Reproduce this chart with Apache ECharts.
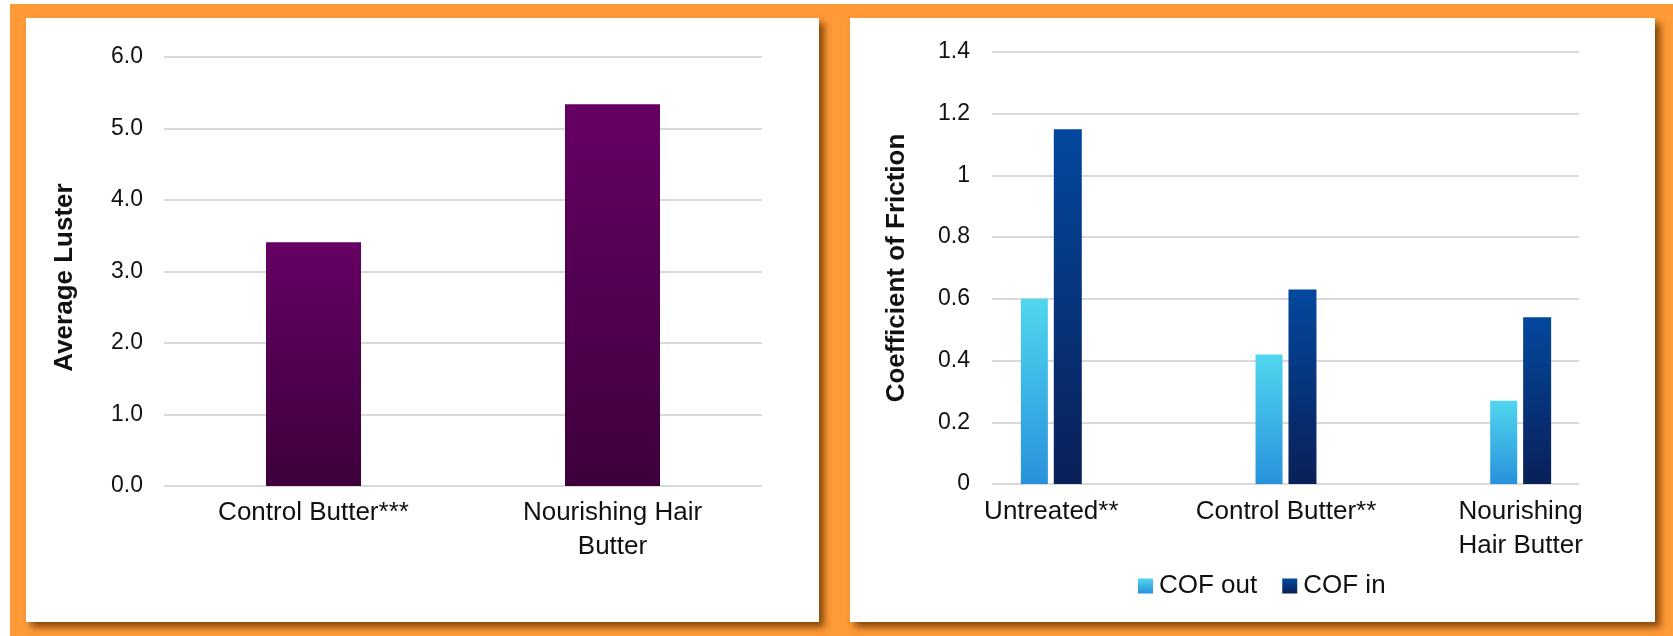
<!DOCTYPE html>
<html>
<head>
<meta charset="utf-8">
<script src="https://cdn.jsdelivr.net/npm/echarts@6/dist/echarts.min.js"></script>
<style>
  html, body { margin: 0; padding: 0; background: #ffffff; }
  #wrap { position: relative; width: 1673px; height: 636px; overflow: hidden; }
  #bg { position: absolute; left: 10px; top: 4px; width: 1663px; height: 632px; background: #fe9a37; }
  .panel { position: absolute; top: 18px; height: 604px; background: #ffffff;
           box-shadow: 5px 5px 7px rgba(110, 55, 0, 0.85); }
  #p1 { left: 26px; width: 793px; }
  #p2 { left: 850px; width: 805px; }
  #chart { position: absolute; left: 0; top: 0; width: 1673px; height: 636px; }
</style>
</head>
<body>
<div id="wrap">
  <div id="bg"></div>
  <div class="panel" id="p1"></div>
  <div class="panel" id="p2"></div>
  <div id="chart"></div>
</div>
<script>
// ---- data ----
const lusterCategories = ['Control Butter***', 'Nourishing Hair\nButter'];
const lusterValues = [3.41, 5.34];
const lusterAxisTitle = 'Average Luster';

const cofCategories = ['Untreated**', 'Control Butter**', 'Nourishing\nHair Butter'];
const cofOut = [0.60, 0.42, 0.27];
const cofIn = [1.15, 0.63, 0.54];
const cofSeriesNames = ['COF out', 'COF in'];
const cofAxisTitle = 'Coefficient of Friction';

// ---- styles ----
const FONT = 'Liberation Sans, Arial, sans-serif';
const TXT = '#111111';
const GRID_LINE = { color: '#d9d9d9', width: 2 };

function vgrad(top, bottom) {
  return new echarts.graphic.LinearGradient(0, 0, 0, 1, [
    { offset: 0, color: top }, { offset: 1, color: bottom }
  ]);
}

const chart = echarts.init(document.getElementById('chart'), null, { renderer: 'canvas' });

const option = {
  backgroundColor: 'transparent',
  animation: false,
  textStyle: { fontFamily: FONT, color: TXT },
  legend: {
    data: cofSeriesNames,
    left: 1133,
    top: 568,
    itemWidth: 15,
    itemHeight: 15,
    itemGap: 25,
    icon: 'rect',
    textStyle: { fontFamily: FONT, fontSize: 26, color: TXT, padding: [0, 0, 0, 1] }
  },
  grid: [
    { left: 164, right: 911, top: 57, bottom: 150, containLabel: false },
    { left: 992, right: 94, top: 52, bottom: 152, containLabel: false },
    { left: 934, right: 35, top: 52, bottom: 152, containLabel: false }
  ],
  xAxis: [
    {
      gridIndex: 0, type: 'category', data: lusterCategories,
      axisLine: { show: false }, axisTick: { show: false },
      axisLabel: { fontFamily: FONT, fontSize: 26, color: TXT, margin: 10, lineHeight: 34, interval: 0 }
    },
    { gridIndex: 1, type: 'value', min: 0, max: 1, show: false },
    {
      gridIndex: 2, type: 'category', data: cofCategories,
      axisLine: { show: false }, axisTick: { show: false },
      axisLabel: { fontFamily: FONT, fontSize: 26, color: TXT, margin: 11, lineHeight: 34, interval: 0 }
    }
  ],
  yAxis: [
    {
      gridIndex: 0, type: 'value', min: 0, max: 6, interval: 1,
      axisLine: { show: false }, axisTick: { show: false },
      splitLine: { show: true, lineStyle: GRID_LINE },
      axisLabel: { fontFamily: FONT, fontSize: 23, color: TXT, margin: 21,
                   formatter: v => v.toFixed(1) },
      name: lusterAxisTitle, nameLocation: 'middle', nameRotate: 90, nameGap: 86,
      nameTextStyle: { fontFamily: FONT, fontSize: 26, fontWeight: 'bold', color: TXT,
                       padding: [0, 12, 0, 0] }
    },
    {
      gridIndex: 1, type: 'value', min: 0, max: 1.4, interval: 0.2,
      axisLine: { show: false }, axisTick: { show: false },
      splitLine: { show: true, lineStyle: GRID_LINE },
      axisLabel: { fontFamily: FONT, fontSize: 23, color: TXT, margin: 22 },
      name: cofAxisTitle, nameLocation: 'middle', nameRotate: 90, nameGap: 82,
      nameTextStyle: { fontFamily: FONT, fontSize: 26, fontWeight: 'bold', color: TXT }
    },
    {
      gridIndex: 2, type: 'value', min: 0, max: 1.4, interval: 0.2, show: false,
      splitLine: { show: false }
    }
  ],
  series: [
    {
      type: 'bar', xAxisIndex: 0, yAxisIndex: 0, data: lusterValues,
      barWidth: 95,
      itemStyle: { color: vgrad('#660064', '#3d003c') }
    },
    {
      name: cofSeriesNames[0], type: 'bar', xAxisIndex: 2, yAxisIndex: 2, data: cofOut,
      barWidth: 27, barGap: '22%',
      itemStyle: { color: vgrad('#50d6ee', '#2891dc') }
    },
    {
      name: cofSeriesNames[1], type: 'bar', xAxisIndex: 2, yAxisIndex: 2, data: cofIn,
      barWidth: 28, barGap: '22%',
      itemStyle: { color: vgrad('#03489e', '#0a2058') }
    }
  ]
};

chart.setOption(option);
</script>
</body>
</html>
